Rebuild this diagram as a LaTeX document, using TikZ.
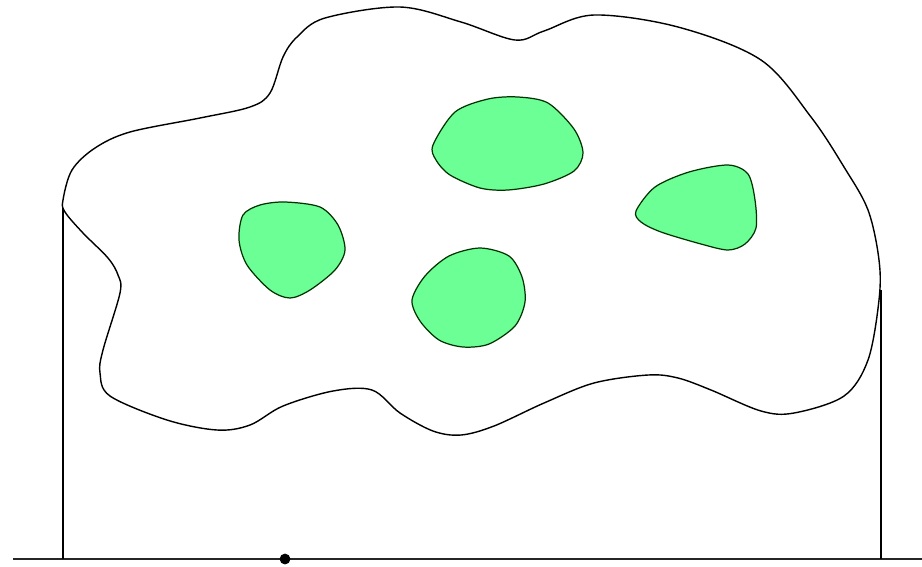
\documentclass[tikz,border=0pt]{standalone}
\usepackage{tikz}
\usepackage[dvipsnames,svgnames]{xcolor}
\definecolor{hijau}{RGB}{108,255,150}

\begin{document}
\begin{tikzpicture}[x=0.02cm,y=-0.02cm,
    pulau/.style={draw=black!80!green,line width=0.7pt,fill=hijau}]

    % Batas gambar
    \useasboundingbox (0,0) rectangle (922,566);

    % Gambar garis tanah dan dua tiang tegak
    \draw[line width=1.1pt,black!85] (13,559)--(922,559);
    \draw[line width=0.9pt] (63,205)--(63,559);
    \draw[line width=0.9pt] (881,290)--(881,559);

    % Gambar awan besar (kurva tertutup)
    \draw[line width=0.8pt,fill=white] plot[smooth cycle,tension=0.55] coordinates {
        (63,200) (72,170) (95,148) (130,132) (200,118) (250,107) (270,93)
        (283,57) (297,37) (325,18) (400,7) (461,22) (515,40) (544,31)
        (594,15) (678,27) (761,60) (811,117) (844,167) (868,210) (879,260)
        (879,300) (868,360) (844,396) (794,413) (761,411) (711,390) (678,378)
        (648,375) (594,383) (544,403) (494,426) (461,435) (433,431) (400,413)
        (372,390) (333,391) (283,406) (250,425) (217,430) (167,420) (110,396)
        (100,373) (103,350) (120,293) (118,275) (108,258) (83,233) (65,212)};

    % Gambar empat daerah hijau
    \draw[pulau] plot[smooth cycle] coordinates {
        (285,202) (320,207) (338,225) (345,250) (335,270) (310,290) (290,298)
        (270,290) (247,265) (239,240) (243,215) (260,205)};
    \draw[pulau] plot[smooth cycle] coordinates {
        (433,145) (455,112) (488,99) (518,97) (548,103) (574,129) (583,153)
        (574,171) (544,184) (508,190) (480,188) (450,175) (436,160)};
    \draw[pulau] plot[smooth cycle] coordinates {
        (412,300) (425,276) (449,256) (480,248) (509,256) (522,277) (525,302)
        (515,326) (489,344) (463,347) (439,340) (420,321)};
    \draw[pulau] plot[smooth cycle] coordinates {
        (636,211) (655,187) (689,172) (728,165) (748,174) (755,200) (756,228)
        (745,244) (728,250) (701,244) (661,232) (641,222)};

    % Gambar titik pada garis tanah
    \filldraw[black] (285,559) circle (0.1cm);

\end{tikzpicture}
\end{document}
